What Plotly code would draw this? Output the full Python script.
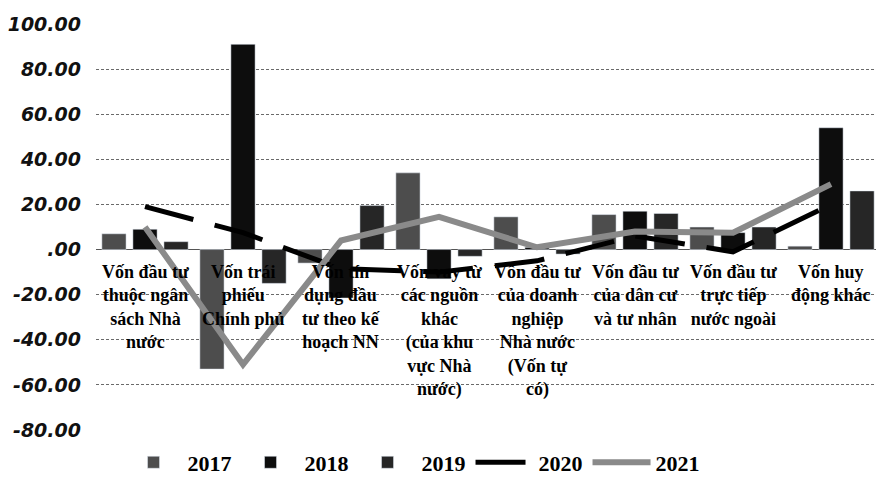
import plotly.graph_objects as go

categories = [
    "Vốn đầu tư<br>thuộc ngân<br>sách Nhà<br>nước",
    "Vốn trái<br>phiếu<br>Chính phủ",
    "Vốn tín<br>dụng đầu<br>tư theo kế<br>hoạch NN",
    "Vốn vay từ<br>các nguồn<br>khác<br>(của khu<br>vực Nhà<br>nước)",
    "Vốn đầu tư<br>của doanh<br>nghiệp<br>Nhà nước<br>(Vốn tự<br>có)",
    "Vốn đầu tư<br>của dân cư<br>và tư nhân",
    "Vốn đầu tư<br>trực tiếp<br>nước ngoài",
    "Vốn huy<br>động khác",
]

y2017 = [7.0, -53.0, -6.0, 34.0, 14.5, 15.5, 10.0, 1.5]
y2018 = [9.0, 91.0, -21.5, -13.0, 1.0, 17.0, 7.5, 54.0]
y2019 = [3.5, -15.0, 19.5, -3.0, -2.0, 16.0, 10.0, 26.0]
y2020 = [19.0, 7.5, -8.5, -10.0, -5.0, 6.0, -1.0, 20.0]
y2021 = [10.0, -51.0, 4.0, 14.5, 1.0, 8.0, 7.5, 29.0]

tick_vals = [100, 80, 60, 40, 20, 0, -20, -40, -60, -80]
tick_text = ["100.00", "80.00", "60.00", "40.00", "20.00", ".00",
             "-20.00", "-40.00", "-60.00", "-80.00"]

serif = "Liberation Serif"

fig = go.Figure()
fig.add_trace(go.Bar(name="2017", x=categories, y=y2017, marker_color="#4d4d4d"))
fig.add_trace(go.Bar(name="2018", x=categories, y=y2018, marker_color="#0d0d0d"))
fig.add_trace(go.Bar(name="2019", x=categories, y=y2019, marker_color="#262626"))
fig.add_trace(go.Scatter(name="2020", x=categories, y=y2020, mode="lines",
                         line=dict(color="#000000", width=5, dash="50px,22px")))
fig.add_trace(go.Scatter(name="2021", x=categories, y=y2021, mode="lines",
                         line=dict(color="#8a8a8a", width=6)))

for c in categories:
    fig.add_annotation(x=c, y=0, xref="x", yref="y", text=c, showarrow=False,
                       yanchor="top", yshift=-10,
                       font=dict(family=serif, size=18, color="#000", weight="bold"))

fig.update_layout(
    width=884, height=489,
    margin=dict(l=88, r=12, t=16, b=67),
    paper_bgcolor="white", plot_bgcolor="white",
    barmode="group", bargap=0.05, bargroupgap=0.22,
    showlegend=True,
    legend=dict(orientation="h", x=0.03, y=-0.08, xanchor="left", yanchor="middle",
                font=dict(family=serif, size=22, color="#000", weight="bold"),
                itemwidth=58, tracegroupgap=0, bgcolor="rgba(0,0,0,0)"),
)
fig.update_xaxes(showticklabels=False, showgrid=False, zeroline=False, showline=False,
                 ticks="", automargin=False)
fig.update_yaxes(range=[-80, 100], tickvals=tick_vals, ticktext=tick_text,
                 showgrid=True, gridcolor="#6a6a6a", griddash="3px,2px", gridwidth=1,
                 zeroline=True, zerolinecolor="#555", zerolinewidth=1,
                 showline=False, ticks="", ticklabelstandoff=14, automargin=False,
                 tickfont=dict(family="DejaVu Sans", size=19, color="#111",
                               style="italic", weight="bold"))

fig.write_html("out.html")
